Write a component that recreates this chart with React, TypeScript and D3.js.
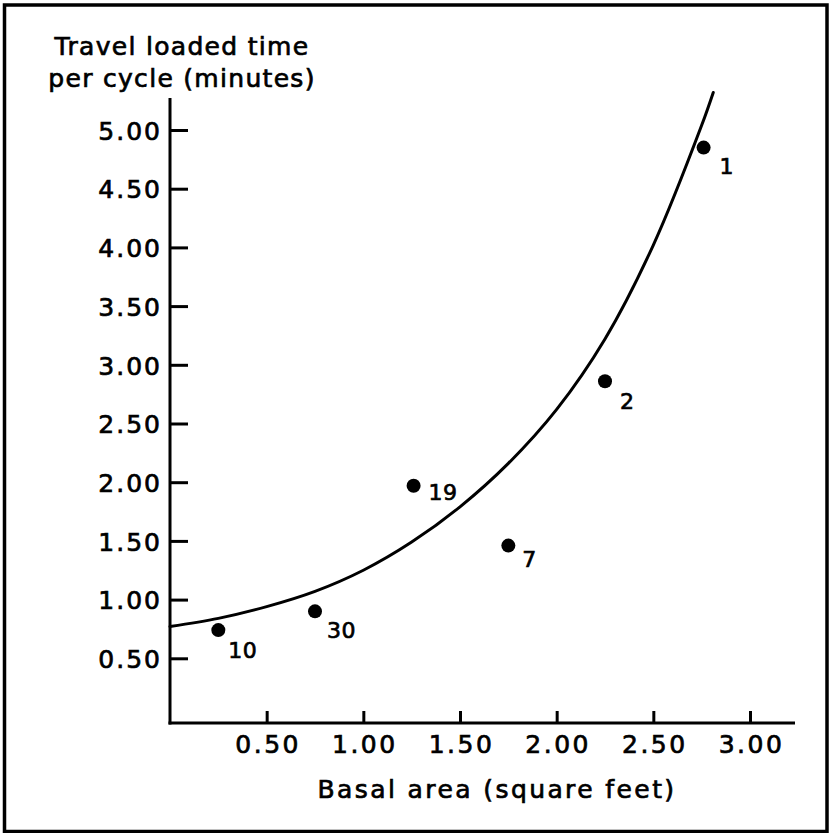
import * as d3 from 'd3'
import { useEffect, useRef } from 'react'

// scatter points (plot numbers)
const plotIds = ['10', '30', '19', '7', '2', '1']
const basalArea = [0.25, 0.75, 1.26, 1.75, 2.25, 2.76]
const travelTime = [0.74, 0.9, 1.97, 1.46, 2.86, 4.85]

// fitted curve
const curveX = [0, 0.25, 0.5, 0.75, 1.0, 1.25, 1.5, 1.75, 2.0, 2.25, 2.5, 2.75, 2.81]
const curveY = [0.77, 0.84, 0.94, 1.07, 1.25, 1.49, 1.79, 2.16, 2.62, 3.22, 4.02, 5.04, 5.32]

const xTicks = [0.5, 1.0, 1.5, 2.0, 2.5, 3.0]
const yTicks = [0.5, 1.0, 1.5, 2.0, 2.5, 3.0, 3.5, 4.0, 4.5, 5.0]

const titleLines = ['Travel loaded time', 'per cycle (minutes)']
const xTitle = 'Basal area (square feet)'

// where each number sits relative to its dot
const labelOffset: Record<string, [number, number]> = {
  '10': [10, 28], '30': [12, 27], '19': [15, 14], '7': [14, 21], '2': [15, 28], '1': [16, 26],
}

const W = 833, H = 833
const left = 170, right = 750, bottom = 717, top = 130
const font = '"DejaVu Sans", sans-serif'

const ink = (sel: any, size: number, spacing: number) =>
  sel.attr('font-family', font).attr('font-size', size).attr('fill', '#000')
    .attr('stroke', '#000').attr('stroke-width', 0.7).attr('letter-spacing', spacing)

const chart = (node: SVGSVGElement) => {
  const svg = d3.select(node)
  svg.selectAll('*').remove()

  const x = d3.scaleLinear().domain([0, 3]).range([left, right])
  const y = d3.scaleLinear().domain([0, 5]).range([bottom, top])

  svg.append('rect').attr('width', W).attr('height', H).attr('fill', '#fff')

  // outer frame
  svg.append('rect')
    .attr('x', 4.5).attr('y', 5).attr('width', 822.5).attr('height', 826.5)
    .attr('fill', 'none').attr('stroke', '#000').attr('stroke-width', 3.5)

  const axisY = 723
  svg.append('line')
    .attr('x1', left).attr('x2', left).attr('y1', 98).attr('y2', axisY + 1.5)
    .attr('stroke', '#000').attr('stroke-width', 3)
  svg.append('line')
    .attr('x1', left - 1.5).attr('x2', 795).attr('y1', axisY).attr('y2', axisY)
    .attr('stroke', '#000').attr('stroke-width', 3)

  const gy = svg.append('g')
    .attr('transform', `translate(${left},0)`)
    .call(d3.axisLeft(y).tickValues(yTicks).tickFormat(d3.format('.2f'))
      .tickSizeInner(-18).tickSizeOuter(0).tickPadding(8))
  gy.select('.domain').remove()
  gy.selectAll('line').attr('stroke', '#000').attr('stroke-width', 3)
  ink(gy.selectAll('text'), 25, 2).attr('dy', '0.37em')

  const gx = svg.append('g')
    .attr('transform', `translate(0,${axisY})`)
    .call(d3.axisBottom(x).tickValues(xTicks).tickFormat(d3.format('.2f'))
      .tickSizeInner(-12).tickSizeOuter(0).tickPadding(12))
  gx.select('.domain').remove()
  gx.selectAll('line').attr('stroke', '#000').attr('stroke-width', 3)
  ink(gx.selectAll('text'), 25, 2.5).attr('dx', 1)

  // titles
  ink(svg.append('g').attr('text-anchor', 'middle')
    .selectAll('text').data(titleLines).join('text'), 25, 1.3)
    .attr('x', 182).attr('y', (d: string, i: number) => 55 + i * 32)
    .text((d: string) => d)

  ink(svg.append('text').attr('text-anchor', 'middle'), 25, 2.4)
    .attr('x', 497).attr('y', 798)
    .text(xTitle)

  // curve
  const line = d3.line<number>()
    .x(i => x(curveX[i]))
    .y(i => y(curveY[i]))
    .curve(d3.curveCatmullRom)
  svg.append('path')
    .datum(d3.range(curveX.length))
    .attr('d', line)
    .attr('fill', 'none').attr('stroke', '#000').attr('stroke-width', 3)
    .attr('stroke-linecap', 'round')

  // points
  const pts = svg.append('g')
    .selectAll('g').data(d3.range(plotIds.length)).join('g')
    .attr('transform', i => `translate(${x(basalArea[i])},${y(travelTime[i])})`)
  pts.append('circle').attr('r', 7).attr('fill', '#000')
  ink(pts.append('text'), 22, 0.5)
    .attr('x', (i: number) => labelOffset[plotIds[i]][0])
    .attr('y', (i: number) => labelOffset[plotIds[i]][1])
    .text((i: number) => plotIds[i])

  return svg.node()
}

export default function App() {
  const ref = useRef<SVGSVGElement>(null)
  useEffect(() => {
    if (ref.current) chart(ref.current)
  }, [])
  return (
    <svg ref={ref} width={W} height={H}
      style={{ position: 'absolute', left: 0, top: 0, display: 'block' }} />
  )
}
